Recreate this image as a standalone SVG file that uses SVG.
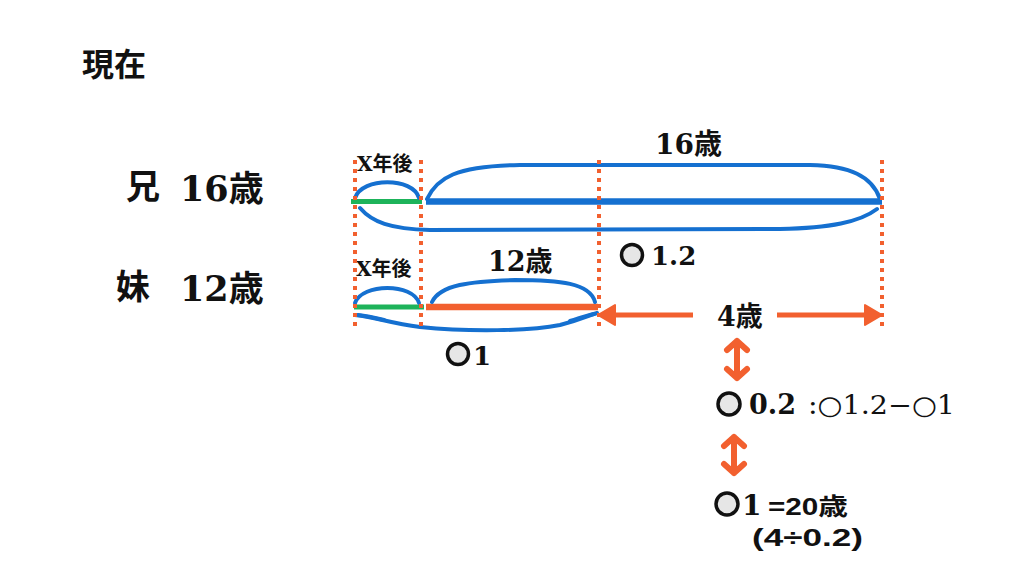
<svg xmlns="http://www.w3.org/2000/svg" width="1024" height="576" viewBox="0 0 1024 576">
<defs>
<style>
.jp{font-family:"Noto Sans CJK JP",sans-serif;font-weight:bold;fill:#111}
.sr{font-family:"DejaVu Serif","Noto Sans CJK JP",serif;font-weight:bold;fill:#111}
.srn{font-family:"DejaVu Serif","Noto Sans CJK JP",serif;font-weight:normal;fill:#111}
.sn{font-family:"Liberation Sans","Noto Sans CJK JP",sans-serif;font-weight:bold;fill:#111}
.dot{stroke:#F2602F;stroke-width:4;stroke-dasharray:4 5;fill:none}
.br{stroke:#1570D0;stroke-width:4;fill:none;stroke-linecap:round}
.mk{fill:#e6e6e6;stroke:#111;stroke-width:3.5}
.ar{stroke:#F2602F;stroke-width:5;fill:none}
.dar{stroke:#F2602F;stroke-width:6;fill:none;stroke-linecap:round;stroke-linejoin:round}
</style>
</defs>
<rect width="1024" height="576" fill="#fff"/>

<g id="title"><text class="jp" x="82" y="76" font-size="32">現在</text></g>

<g id="brother-label">
<text class="jp" x="126" y="199" font-size="34">兄</text>
<text class="sr" x="180" y="201" font-size="35">16歳</text>
</g>
<g id="sister-label">
<text class="jp" x="116" y="299" font-size="34">妹</text>
<text class="sr" x="180" y="301" font-size="35">12歳</text>
</g>

<g id="brother-bar">
<line x1="351" y1="201.5" x2="422" y2="201.5" stroke="#1DB35A" stroke-width="5"/>
<line x1="426" y1="201.5" x2="882" y2="201.5" stroke="#1570D0" stroke-width="6.5"/>
<path class="br" d="M355,198 C362,177 413,177 419,198"/>
<path class="br" d="M427,199 C437,178 455,166 520,165 L810,165 C850,166 872,176 880,199"/>
<path class="br" d="M360,208 C372,222 390,229 430,230 L780,229 C830,228 860,222 877,209"/>
<text class="sr" x="357" y="171" font-size="20">X年後</text>
<text class="sr" x="655" y="154" font-size="28">16歳</text>
<circle class="mk" cx="632" cy="255" r="10.5"/>
<text class="sr" x="651" y="265" font-size="26">1.2</text>
</g>

<g id="sister-bar">
<line x1="354" y1="307" x2="424" y2="307" stroke="#1DB35A" stroke-width="5"/>
<line x1="426" y1="307" x2="598" y2="307" stroke="#F2602F" stroke-width="6.5"/>
<path class="br" d="M355,303 C362,283 413,283 419,303"/>
<path class="br" d="M432,302 C440,285 470,281 515,280 C560,280 590,283 595,302"/>
<path class="br" d="M355,315 C380,318 388,323 420,327 C470,332 530,331 560,325 C580,320 590,315 597,313"/>
<path class="br" stroke-width="6" d="M358,315 C368,316 376,318 384,320"/>
<path class="br" stroke-width="6" d="M570,321 C580,318 588,315 594,314"/>
<text class="sr" x="356" y="276" font-size="20">X年後</text>
<text class="sr" x="488" y="271" font-size="27">12歳</text>
<circle class="mk" cx="458" cy="354" r="10.5"/>
<text class="sr" x="473" y="365" font-size="26">1</text>
</g>

<g id="guides">
<line class="dot" x1="355" y1="160" x2="355" y2="328"/>
<line class="dot" x1="421" y1="160" x2="421" y2="328"/>
<line class="dot" x1="599" y1="160" x2="599" y2="328"/>
<line class="dot" x1="882" y1="160" x2="882" y2="328"/>
</g>

<g id="connectors">
<line class="ar" x1="612" y1="315" x2="693" y2="315"/>
<path d="M598,315 L615,305 L615,325 Z" fill="#F2602F" stroke="#F2602F" stroke-width="2" stroke-linejoin="round"/>
<line class="ar" x1="777" y1="315" x2="868" y2="315"/>
<path d="M882,315 L865,305 L865,325 Z" fill="#F2602F" stroke="#F2602F" stroke-width="2" stroke-linejoin="round"/>
<path class="dar" d="M737,341 L737,378 M727,350 L737,341 L747,350 M727,369 L737,378 L747,369"/>
<path class="dar" d="M734,437 L734,473 M724,446 L734,437 L744,446 M724,464 L734,473 L744,464"/>
</g>

<g id="four-years"><text class="sr" x="717" y="326" font-size="27">4歳</text></g>

<g id="step-1">
<circle class="mk" cx="729" cy="404" r="11"/>
<text class="sr" x="749" y="414" font-size="27">0.2</text>
<text class="srn" x="808" y="414" font-size="26" textLength="147" lengthAdjust="spacingAndGlyphs">:○1.2−○1</text>
</g>

<g id="step-2">
<circle class="mk" cx="727" cy="504" r="11"/>
<text class="sr" x="742" y="515" font-size="28">1</text>
<text class="sn" x="768" y="515" font-size="24" textLength="80" lengthAdjust="spacingAndGlyphs">=20歳</text>
<text class="sn" x="752" y="546" font-size="24" textLength="111" lengthAdjust="spacingAndGlyphs">(4÷0.2)</text>
</g>
</svg>
